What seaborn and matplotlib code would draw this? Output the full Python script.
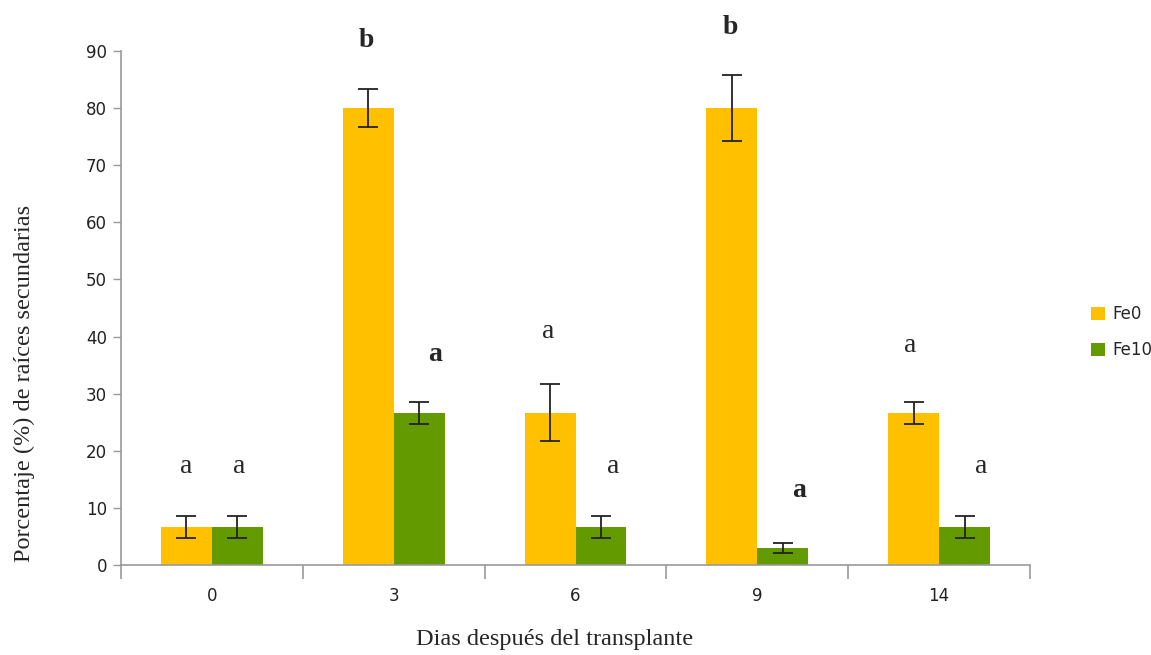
import numpy as np
import pandas as pd
import matplotlib
matplotlib.use("Agg")
import matplotlib.pyplot as plt
from matplotlib.patches import Patch
import seaborn as sns

# ---- data ----
days = ["0", "3", "6", "9", "14"]
series = ["Fe0", "Fe10"]
fe0_vals = [6.67, 80.0, 26.67, 80.0, 26.67]
fe10_vals = [6.67, 26.67, 6.67, 3.0, 6.67]
fe0_err = [1.9, 3.3, 5.0, 5.8, 1.9]
fe10_err = [1.9, 1.9, 1.9, 0.9, 1.9]
fe0_letters = ["a", "b", "a", "b", "a"]
fe10_letters = ["a", "a", "a", "a", "a"]
fe0_bold = [False, True, False, True, False]
fe10_bold = [False, True, False, True, False]
fe0_letter_y = [17.2, 91.8, 40.8, 94.2, 38.5]
fe10_letter_y = [17.2, 36.8, 17.2, 13.1, 17.2]
fe0_letter_dx = [-0.14, -0.15, -0.15, -0.15, -0.16]
fe10_letter_dx = [0.15, 0.23, 0.21, 0.23, 0.23]

colors = {"Fe0": "#FFC000", "Fe10": "#639A00"}

df = pd.DataFrame({
    "dia": days * 2,
    "serie": ["Fe0"] * len(days) + ["Fe10"] * len(days),
    "valor": fe0_vals + fe10_vals,
})

sns.set_theme(style="white")
plt.rcParams["font.family"] = ["DejaVu Sans"]

fig = plt.figure(figsize=(11.51, 6.55), dpi=100)
ax = fig.add_axes([0.1051, 0.1374, 0.7898, 0.7847])

sns.barplot(data=df, x="dia", y="valor", hue="serie", order=days,
            hue_order=series, palette=colors, width=0.56, gap=0,
            errorbar=None, legend=False, saturation=1, ax=ax)

errs = {"Fe0": fe0_err, "Fe10": fe10_err}
for cont, s in zip(ax.containers, series):
    for bar, e in zip(cont, errs[s]):
        bar.set_edgecolor("none")
        xc = bar.get_x() + bar.get_width() / 2
        ax.errorbar(xc, bar.get_height(), yerr=e, fmt="none",
                    ecolor="#222222", elinewidth=1.3, capsize=7, capthick=1.3,
                    zorder=5)

# letters
for i in range(len(days)):
    ax.text(i + fe0_letter_dx[i], fe0_letter_y[i], fe0_letters[i],
            ha="center", va="center", fontsize=20, family="Liberation Serif",
            fontweight="bold" if fe0_bold[i] else "normal", clip_on=False)
    ax.text(i + fe10_letter_dx[i], fe10_letter_y[i], fe10_letters[i],
            ha="center", va="center", fontsize=20, family="Liberation Serif",
            fontweight="bold" if fe10_bold[i] else "normal", clip_on=False)

ax.set_ylim(0, 90)
ax.set_xlim(-0.5, len(days) - 0.5)
ax.set_yticks(np.arange(0, 91, 10))
ax.tick_params(axis="y", which="major", left=True, length=6, width=1,
               color="#999999", labelsize=12, labelcolor="#222222", pad=4)
ax.set_xticks(range(len(days)))
ax.set_xticklabels(days)
ax.set_xticks(np.arange(-0.5, len(days), 1.0), minor=True)
ax.tick_params(axis="x", which="major", bottom=False, length=0,
               labelsize=12, labelcolor="#222222", pad=16)
ax.tick_params(axis="x", which="minor", bottom=True, length=10, width=1.2,
               color="#999999")

for sp in ["top", "right"]:
    ax.spines[sp].set_visible(False)
for sp in ["left", "bottom"]:
    ax.spines[sp].set_color("#999999")
    ax.spines[sp].set_linewidth(1.2)

ax.set_xlabel("")
ax.set_ylabel("")
fig.text(0.021, 0.415, "Porcentaje (%) de raíces secundarias", rotation=90,
         ha="center", va="center", fontsize=17.5, family="Liberation Serif")
fig.text(0.482, 0.024, "Dias después del transplante", ha="center",
         va="center", fontsize=17.5, family="Liberation Serif")

handles = [Patch(facecolor=colors[s], edgecolor="none", label=s) for s in series]
fig.legend(handles=handles, loc="center left", bbox_to_anchor=(0.935, 0.493),
           frameon=False, fontsize=12, handlelength=0.8, handleheight=0.8,
           handletextpad=0.5, labelspacing=1.1)

fig.savefig("out.png", dpi=100)
